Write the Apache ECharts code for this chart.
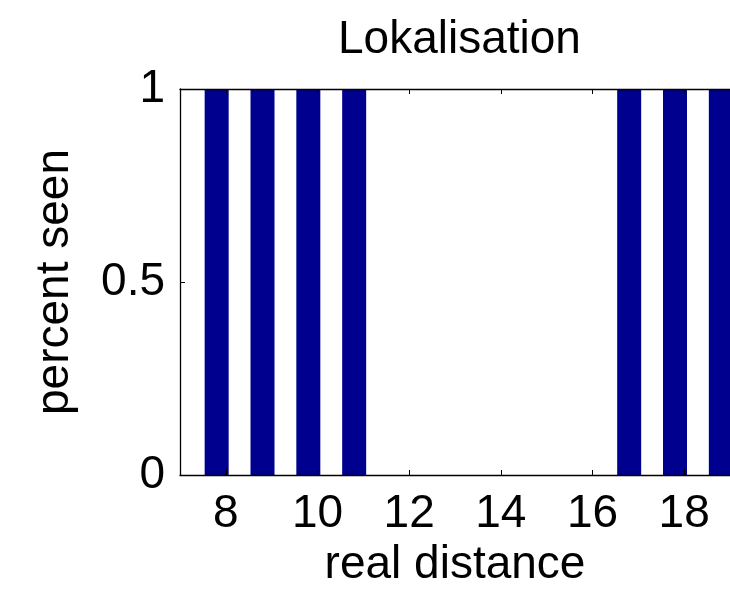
<!DOCTYPE html>
<html>
<head>
<meta charset="utf-8">
<script src="https://cdn.jsdelivr.net/npm/echarts@6/dist/echarts.min.js"></script>
<style>
html,body{margin:0;padding:0;background:#fff;}
#c{width:730px;height:595px;}
</style>
</head>
<body>
<div id="c"></div>
<script>
// Data
const distances = [7.8, 8.8, 9.8, 10.8, 11.8, 12.8, 13.8, 14.8, 15.8, 16.8, 17.8, 18.8];
const percentSeen = [1, 1, 1, 1, 0, 0, 0, 0, 0, 1, 1, 1];
const xTicks = [8, 10, 12, 14, 16, 18];
const yTicks = [0, 0.5, 1];
const titleText = 'Lokalisation';
const xName = 'real distance';
const yName = 'percent seen';

const FONT = "'Liberation Sans', Arial, Helvetica, sans-serif";
const chart = echarts.init(document.getElementById('c'), null, {renderer: 'canvas'});
const seriesData = distances.map((d, i) => [d, percentSeen[i]]);

chart.setOption({
  animation: false,
  backgroundColor: '#fff',
  title: {
    text: titleText,
    left: 333,
    top: 12,
    textStyle: {fontFamily: FONT, fontSize: 46, fontWeight: 'normal', color: '#000'}
  },
  grid: {left: 180, top: 89, width: 555, bottom: 120, containLabel: false},
  xAxis: [{
    type: 'value',
    min: 7, max: 19,
    position: 'bottom',
    name: xName,
    nameLocation: 'middle',
    nameGap: 65,
    nameTextStyle: {fontFamily: FONT, fontSize: 46, color: '#000'},
    axisLine: {show: true, lineStyle: {color: '#000', width: 1.3}},
    axisTick: {show: true, inside: true, length: 5, customValues: xTicks, lineStyle: {color: '#000'}},
    axisLabel: {show: true, customValues: xTicks, margin: 16, fontFamily: FONT, fontSize: 46, color: '#000'},
    splitLine: {show: false},
    z: 10
  }, {
    type: 'value',
    min: 7, max: 19,
    position: 'top',
    axisLine: {show: true, lineStyle: {color: '#000', width: 1.3}},
    axisTick: {show: true, inside: true, length: 5, customValues: xTicks, lineStyle: {color: '#000'}},
    axisLabel: {show: false},
    splitLine: {show: false},
    z: 10
  }],
  yAxis: {
    type: 'value',
    min: 0, max: 1, interval: 0.5,
    name: yName,
    nameLocation: 'middle',
    nameGap: 102,
    nameRotate: 90,
    nameTextStyle: {fontFamily: FONT, fontSize: 46, color: '#000'},
    axisLine: {show: true, lineStyle: {color: '#000', width: 1.3}},
    axisTick: {show: true, inside: true, length: 5, customValues: yTicks, lineStyle: {color: '#000'}},
    axisLabel: {show: true, customValues: yTicks, margin: 15, fontFamily: FONT, fontSize: 46, color: '#000'},
    splitLine: {show: false},
    z: 10
  },
  series: [{
    type: 'bar',
    data: seriesData,
    barWidth: 24,
    itemStyle: {color: '#00008f'},
    clip: true
  }]
});
</script>
</body>
</html>
